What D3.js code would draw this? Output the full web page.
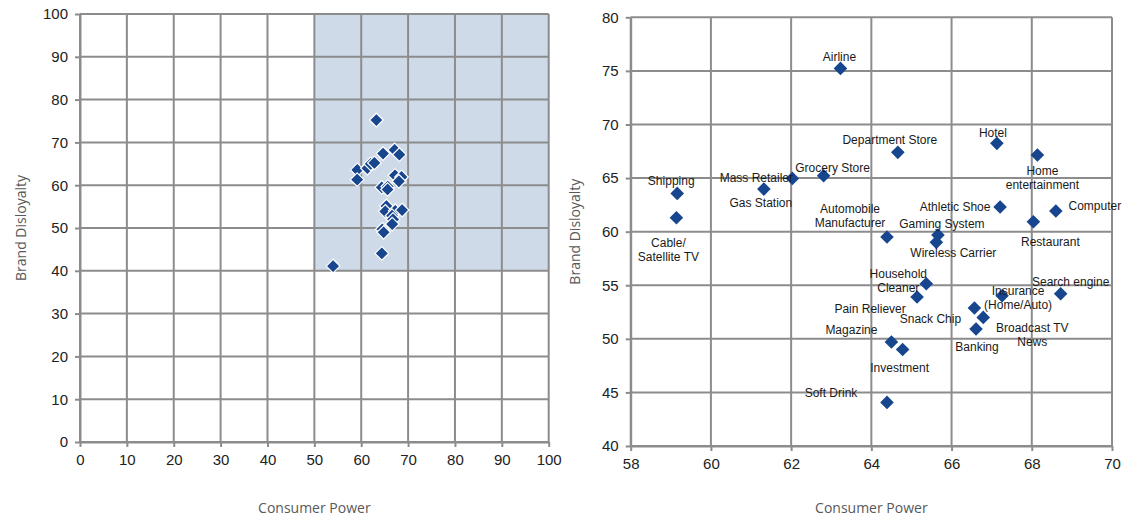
<!DOCTYPE html>
<html>
<head>
<meta charset="utf-8">
<script src="https://cdn.jsdelivr.net/npm/d3@7"></script>
<style>
  body { margin: 0; background: #fff; }
  svg { display: block; }
  .tick text { font-family: "Liberation Sans", Arial, sans-serif; font-size: 15px; fill: #222; }
  .axisTitle { font-family: "Open Sans", "Noto Sans", sans-serif; font-size: 14px; fill: #595959; }
  .ptLabel { font-family: "Liberation Sans", Arial, sans-serif; font-size: 12px; fill: #1a1a1a; }
</style>
</head>
<body>
<svg id="chart" width="1142" height="521"></svg>
<script>
// industries, consumer power (x) and brand disloyalty (y)
var industries = ["Airline", "Shipping", "Cable/\nSatellite TV", "Gas Station", "Mass Retailer",
  "Grocery Store", "Department Store", "Hotel", "Home\nentertainment", "Athletic Shoe",
  "Computer", "Restaurant", "Automobile\nManufacturer", "Gaming System", "Wireless Carrier",
  "Household\nCleaner", "Pain Reliever", "Insurance\n(Home/Auto)", "Search engine", "Snack Chip",
  "Broadcast TV\nNews", "Banking", "Magazine", "Investment", "Soft Drink"];
var consumerPower = [63.23, 59.16, 59.14, 61.32, 62.03, 62.81, 64.66, 67.13, 68.14, 67.21,
  68.6, 68.04, 64.39, 65.66, 65.62, 65.37, 65.14, 67.26, 68.72, 66.57,
  66.79, 66.61, 64.5, 64.78, 64.39];
var brandDisloyalty = [75.23, 63.57, 61.3, 63.97, 64.97, 65.21, 67.4, 68.24, 67.15, 62.3,
  61.92, 60.92, 59.5, 59.68, 59.0, 55.14, 53.9, 54.02, 54.2, 52.87,
  52.0, 50.91, 49.7, 49.0, 44.07];
// extra point only visible on the full-range chart
var otherPower = [54.0];
var otherDisloyalty = [41.1];

var fullTicks = [0, 10, 20, 30, 40, 50, 60, 70, 80, 90, 100];
var zoomXTicks = [58, 60, 62, 64, 66, 68, 70];
var zoomYTicks = [40, 45, 50, 55, 60, 65, 70, 75, 80];

// label placement around each diamond [dx, dy of first line]
var labelOffsets = {
  "Airline": [-1, -12], "Shipping": [-6, -13], "Cable/\nSatellite TV": [-8, 25],
  "Gas Station": [-3, 14], "Mass Retailer": [-36, -1], "Grocery Store": [9, -8],
  "Department Store": [-8, -13], "Hotel": [-4, -11], "Home\nentertainment": [5, 16],
  "Athletic Shoe": [-45, 0], "Computer": [39, -5], "Restaurant": [17, 20],
  "Automobile\nManufacturer": [-37, -28], "Gaming System": [4, -11], "Wireless Carrier": [17, 10],
  "Household\nCleaner": [-28, -10], "Pain Reliever": [-47, 12], "Insurance\n(Home/Auto)": [16, -5],
  "Search engine": [10, -12], "Snack Chip": [-44, 11], "Broadcast TV\nNews": [49, 10],
  "Banking": [1, 18], "Magazine": [-40, -12], "Investment": [-3, 18], "Soft Drink": [-56, -10]
};

var gridColor = "#8c8c8c", markColor = "#17468f";
var svg = d3.select("#chart");

function diamond(r){
  return "M0," + (-r) + "L" + r + ",0L0," + r + "L" + (-r) + ",0Z";
}

function drawFrame(g, x, y, xt, yt){
  g.append("g").selectAll("line").data(xt).enter().append("line")
    .attr("x1", x).attr("x2", x)
    .attr("y1", y.range()[0]).attr("y2", y.range()[1])
    .attr("stroke", gridColor).attr("stroke-width", 2);
  g.append("g").selectAll("line").data(yt).enter().append("line")
    .attr("y1", y).attr("y2", y)
    .attr("x1", x.range()[0]).attr("x2", x.range()[1])
    .attr("stroke", gridColor).attr("stroke-width", 2);

  var ax = g.append("g")
    .attr("transform", "translate(0," + y.range()[0] + ")")
    .call(d3.axisBottom(x).tickValues(xt).tickSize(5).tickPadding(7).tickSizeOuter(0));
  var ay = g.append("g")
    .attr("transform", "translate(" + x.range()[0] + ",0)")
    .call(d3.axisLeft(y).tickValues(yt).tickSize(5).tickPadding(7).tickSizeOuter(0));
  [ax, ay].forEach(function(a){
    a.attr("font-family", null).attr("font-size", null);
    a.selectAll("path, line").attr("stroke", gridColor).attr("stroke-width", 2);
  });
}

function axisTitles(g, x, y, titleY){
  var cx = (x.range()[0] + x.range()[1]) / 2;
  var cy = (y.range()[0] + y.range()[1]) / 2;
  g.append("text").attr("class", "axisTitle")
    .attr("x", cx).attr("y", 508).attr("text-anchor", "middle").attr("dy", "0.35em")
    .text("Consumer Power");
  g.append("text").attr("class", "axisTitle")
    .attr("transform", "translate(" + titleY + "," + cy + ") rotate(-90)")
    .attr("text-anchor", "middle").attr("dy", "0.35em")
    .text("Brand Disloyalty");
}

// ---- left chart: full range ----
var xL = d3.scaleLinear().domain([0, 100]).range([80, 548.7]);
var yL = d3.scaleLinear().domain([0, 100]).range([442, 14]);
var left = svg.append("g");

left.append("rect")
  .attr("x", xL(50)).attr("y", yL(100))
  .attr("width", xL(100) - xL(50)).attr("height", yL(40) - yL(100))
  .attr("fill", "#cfdae8");

drawFrame(left, xL, yL, fullTicks, fullTicks);

var fullPts = industries.map(function(n, i){ return [consumerPower[i], brandDisloyalty[i]]; })
  .concat(otherPower.map(function(p, i){ return [p, otherDisloyalty[i]]; }));

left.append("g").selectAll("path").data(fullPts).enter().append("path")
  .attr("d", diamond(6.8))
  .attr("transform", function(d){ return "translate(" + xL(d[0]) + "," + yL(d[1]) + ")"; })
  .attr("fill", markColor).attr("stroke", "#fff").attr("stroke-width", 1.2);

axisTitles(left, xL, yL, 21);

// ---- right chart: zoomed ----
var xR = d3.scaleLinear().domain([58, 70]).range([630.7, 1112]);
var yR = d3.scaleLinear().domain([40, 80]).range([446, 17.3]);
var right = svg.append("g");

drawFrame(right, xR, yR, zoomXTicks, zoomYTicks);

right.append("g").selectAll("path").data(industries).enter().append("path")
  .attr("d", diamond(6.8))
  .attr("transform", function(d, i){
    return "translate(" + xR(consumerPower[i]) + "," + yR(brandDisloyalty[i]) + ")";
  })
  .attr("fill", markColor);

var labels = right.append("g").selectAll("text").data(industries).enter().append("text")
  .attr("class", "ptLabel")
  .attr("text-anchor", "middle")
  .attr("x", function(d, i){ return xR(consumerPower[i]) + labelOffsets[d][0]; })
  .attr("y", function(d, i){ return yR(brandDisloyalty[i]) + labelOffsets[d][1]; });

labels.each(function(d){
  var t = d3.select(this);
  var x = t.attr("x");
  d.split("\n").forEach(function(line, k){
    t.append("tspan").attr("x", x)
      .attr("dy", k === 0 ? "0.35em" : "14px")
      .text(line);
  });
});

axisTitles(right, xR, yR, 575);
</script>
</body>
</html>
